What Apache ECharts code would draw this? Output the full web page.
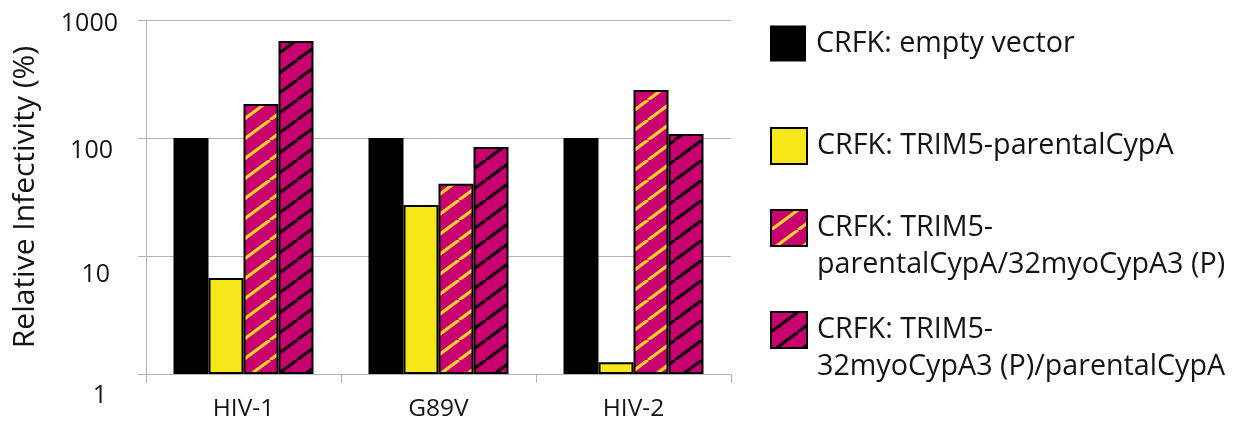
<!DOCTYPE html>
<html>
<head>
<meta charset="utf-8">
<script src="https://cdn.jsdelivr.net/npm/echarts@6/dist/echarts.min.js"></script>
<style>
  html, body { margin: 0; padding: 0; background: #ffffff; }
  #chart { width: 1241px; height: 424px; }
</style>
</head>
<body>
<div id="chart"></div>
<script>
// Virus strains along the x axis
const categories = ['HIV-1', 'G89V', 'HIV-2'];

// Relative infectivity (%) for each cell line
const emptyVector = [100, 100, 100];
const parentalCypA = [6.5, 27, 1.26];
const parentalMyoCypA = [194, 41, 255];
const myoParentalCypA = [664, 84, 108];

const seriesNames = [
  'CRFK: empty vector',
  'CRFK: TRIM5-parentalCypA',
  'CRFK: TRIM5-\nparentalCypA/32myoCypA3 (P)',
  'CRFK: TRIM5-\n32myoCypA3 (P)/parentalCypA'
];

const yTickLabels = [1, 10, 100, 1000];

const FONT = '"Open Sans", "Noto Sans", sans-serif';
const TEXT = '#141414';
const GRID = '#b4b4b4';
const MAGENTA = '#c9006f';

// Diagonal hatch tile: magenta ground with "/" stripes
function hatch(lineColor) {
  const w = 27, h = 20;
  const c = document.createElement('canvas');
  c.width = w; c.height = h;
  const ctx = c.getContext('2d');
  ctx.fillStyle = MAGENTA;
  ctx.fillRect(0, 0, w, h);
  ctx.strokeStyle = lineColor;
  ctx.lineWidth = 3.2;
  for (const dx of [-w, 0, w]) {
    ctx.beginPath();
    ctx.moveTo(dx, h);
    ctx.lineTo(dx + w, 0);
    ctx.stroke();
  }
  return { image: c, repeat: 'repeat' };
}

const fills = [
  '#000000',
  '#f6e71b',
  hatch('#ffd22e'),
  hatch('#140010')
];
const values = [emptyVector, parentalCypA, parentalMyoCypA, myoParentalCypA];

const series = seriesNames.map((name, i) => ({
  name: name,
  type: 'bar',
  barWidth: 35,
  barGap: '0%',
  data: values[i],
  itemStyle: {
    color: fills[i],
    borderColor: '#000',
    borderWidth: i === 0 ? 0 : 2
  },
  emphasis: { disabled: true }
}));

// One legend block per entry so each sits at its own height.
// Two-line entries get a blank line above so the icon lines up with the first line.
const legendTops = [25, 127, 172.5, 274.5];
const legends = seriesNames.map((name, i) => {
  const twoLines = name.indexOf('\n') >= 0;
  return {
    left: 770,
    top: legendTops[i],
    orient: 'vertical',
    padding: 0,
    itemWidth: 36,
    itemHeight: 36,
    selectedMode: false,
    formatter: n => (twoLines ? ' \n' + n : n),
    data: [{
      name: name,
      icon: 'rect',
      itemStyle: { borderColor: '#000', borderWidth: i === 0 ? 0 : 2 }
    }],
    textStyle: {
      fontFamily: FONT,
      fontSize: 28.7,
      color: TEXT,
      lineHeight: 37,
      padding: [0, 0, 0, 5]
    }
  };
});

// Per-tick label nudges
const labelRich = {
  t1000: { padding: [8, 0, 0, 0] },
  t100: { padding: [26, 5, 0, 0] },
  t10: { padding: [38, 8, 0, 0] },
  t1: { padding: [44, 11, 0, 0] }
};
Object.values(labelRich).forEach(r => {
  r.fontFamily = FONT; r.fontSize = 25; r.color = TEXT;
});

const chart = echarts.init(document.getElementById('chart'), null, { renderer: 'canvas' });
chart.setOption({
  backgroundColor: '#ffffff',
  animation: false,
  grid: { left: 146, right: 510, top: 20, bottom: 50 },
  legend: legends,
  xAxis: {
    type: 'category',
    data: categories,
    axisLine: { lineStyle: { color: GRID, width: 1 } },
    axisTick: { show: true, length: 9, lineStyle: { color: GRID } },
    axisLabel: {
      fontFamily: FONT, fontSize: 24.5, color: TEXT, margin: 23
    }
  },
  yAxis: {
    type: 'log',
    logBase: 10,
    min: yTickLabels[0],
    max: yTickLabels[yTickLabels.length - 1],
    name: 'Relative Infectivity (%)',
    nameLocation: 'middle',
    nameRotate: 90,
    nameGap: 106,
    nameTextStyle: { fontFamily: FONT, fontSize: 30, color: TEXT },
    axisLine: { show: true, lineStyle: { color: GRID, width: 1 } },
    axisTick: { show: true, length: 8, lineStyle: { color: GRID } },
    splitLine: { show: true, lineStyle: { color: GRID, width: 1 } },
    axisLabel: {
      margin: 28,
      formatter: v => '{t' + v + '|' + v + '}',
      rich: labelRich
    }
  },
  series: series
});
</script>
</body>
</html>
